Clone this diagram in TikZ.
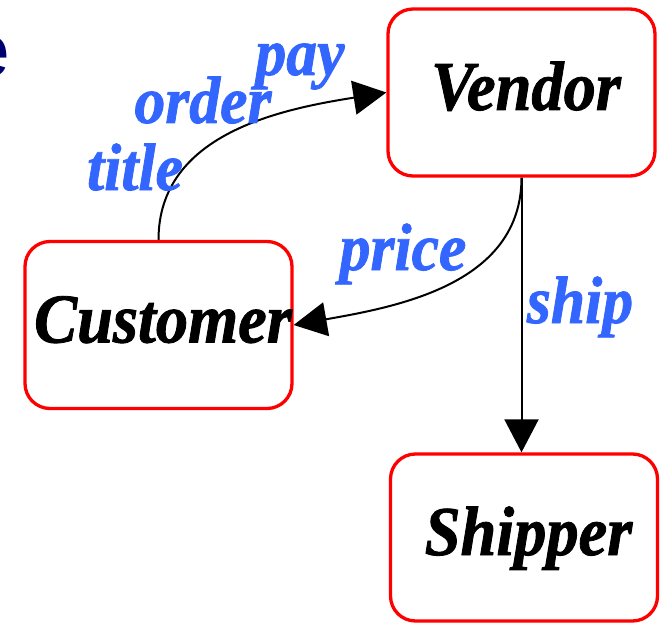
\documentclass[tikz,border=0pt]{standalone}
\usepackage{fontspec}
\setmainfont{Liberation Serif}
\newfontfamily\diafont[FakeStretch=0.92,FakeBold=1.2]{Liberation Serif}
\newfontfamily\sansfnt{Liberation Sans}
\usetikzlibrary{arrows.meta}
\definecolor{boxred}{RGB}{255,0,0}
\definecolor{labblue}{RGB}{51,102,255}
\definecolor{titlenavy}{RGB}{0,0,110}
\begin{document}
\begin{tikzpicture}[x=1pt,y=1pt,
  entity/.style={draw=boxred, line width=3.3pt, rounded corners=25pt,
    minimum width=267pt, minimum height=167pt, inner sep=0pt,
    text height=35pt, text depth=0pt,
    execute at begin node={\hspace*{9pt}},
    font=\diafont\bfseries\itshape\fontsize{70}{70}\selectfont},
  flow/.style={draw, line width=2pt, -{Triangle[length=33pt,width=34pt]}},
  lab/.style={text=labblue, inner sep=0pt, anchor=base,
    font=\diafont\bfseries\itshape\fontsize{67}{67}\selectfont}]
\clip (0,0) rectangle (666,-623);
\node[text=titlenavy, font=\sansfnt\fontsize{75}{75}\selectfont, anchor=base east, inner sep=0pt] (ttl) at (10,-77) {e};
\node[entity] (Vendor) at (521.5,-92.5) {Vendor};
\node[entity] (Customer) at (158.5,-325) {Customer};
\node[entity] (Shipper) at (524,-537.5) {Shipper};
\draw[flow] (Customer.north) to[out=90,in=189] (Vendor.west);
\draw[flow] (Vendor.south) to[out=-90,in=10] (Customer.east);
\draw[flow] (Vendor.south) -- (Vendor.south |- Shipper.north);
\node[lab] (lpay) at (300,-75) {pay};
\node[lab] (lorder) at (203,-123) {order};
\node[lab] (ltitle) at (135,-190) {title};
\node[lab] (lprice) at (403,-270) {price};
\node[lab] (lship) at (580,-323) {ship};
\end{tikzpicture}
\end{document}
